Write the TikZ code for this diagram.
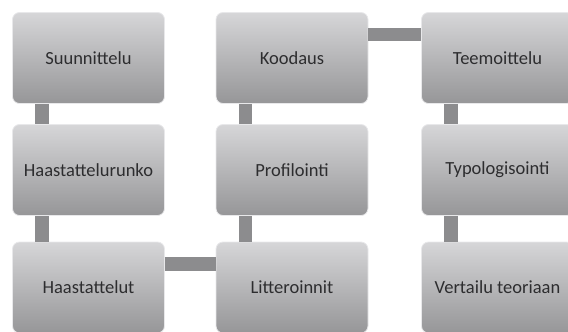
\documentclass[tikz,border=0pt]{standalone}
\usepackage{fontspec}
\setmainfont{Carlito}
\usepackage{tikz}
\usetikzlibrary{calc}
\definecolor{boxtop}{RGB}{214,214,216}
\definecolor{boxbottom}{RGB}{150,150,152}
\definecolor{boxedge}{RGB}{232,232,234}
\definecolor{linkgray}{RGB}{140,140,142}
\definecolor{labelgray}{RGB}{45,45,47}

\begin{document}
\begin{tikzpicture}[x=1pt,y=-1pt,
		stage/.style={rectangle, rounded corners=7pt, draw=boxedge, line width=0.8pt,
			top color=boxtop, bottom color=boxbottom,
			minimum width=152pt, minimum height=91pt, inner sep=0pt,
			text=labelgray, font=\fontsize{18.5}{20}\selectfont},
		link/.style={draw=linkgray, line width=13.5pt}]
								\def\colA{88.5}
								\def\colB{292}
								\def\colC{497.5}
								\def\rowA{58}
								\def\rowB{170}
								\def\rowC{287.5}
								\def\barin{30}
								\def\bardown{-22.5}

								\useasboundingbox (0,0) rectangle (568,332);

								\node[stage] (suunnittelu) at (\colA,\rowA) {Suunnittelu};
								\node[stage] (runko) at (\colA,\rowB) {Haastattelurunko};
								\node[stage] (haastattelut) at (\colA,\rowC) {Haastattelut};

								\node[stage] (koodaus) at (\colB,\rowA) {Koodaus};
								\node[stage] (profilointi) at (\colB,\rowB) {Profilointi};
								\node[stage] (litteroinnit) at (\colB,\rowC) {Litteroinnit};

								\node[stage] (teemoittelu) at (\colC,\rowA) {Teemoittelu};
								\node[stage] (typologisointi) at (\colC,\rowB) {Typologisointi};
								\node[stage] (vertailu) at (\colC,\rowC) {Vertailu teoriaan};

								\draw[link] ([xshift=\barin]suunnittelu.south west) -- ([xshift=\barin]runko.north west);
								\draw[link] ([xshift=\barin]runko.south west) -- ([xshift=\barin]haastattelut.north west);
								\draw[link] ([yshift=\bardown]haastattelut.north east) -- ([yshift=\bardown]litteroinnit.north west);
								\draw[link] ([xshift=\barin]litteroinnit.north west) -- ([xshift=\barin]profilointi.south west);
								\draw[link] ([xshift=\barin]profilointi.north west) -- ([xshift=\barin]koodaus.south west);
								\draw[link] ([yshift=\bardown]koodaus.north east) -- ([yshift=\bardown]teemoittelu.north west);
								\draw[link] ([xshift=\barin]teemoittelu.south west) -- ([xshift=\barin]typologisointi.north west);
								\draw[link] ([xshift=\barin]typologisointi.south west) -- ([xshift=\barin]vertailu.north west);
							\end{tikzpicture}
\end{document}
